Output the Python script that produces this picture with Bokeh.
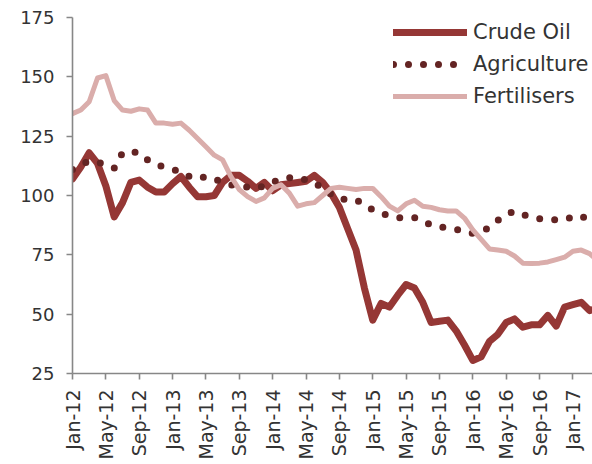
import math
import pandas as pd
from bokeh.plotting import figure
from bokeh.models import Range1d, FixedTicker, Legend, LegendItem, ColumnDataSource
from bokeh.embed import file_html
from bokeh.resources import INLINE

# ---- data (index values) ----
months = [d.strftime("%b-%y") for d in pd.date_range("2012-01-01", "2017-04-01", freq="MS")]

crude_oil = [107, 112, 118, 113.5, 104, 91, 97, 105.5, 106.5, 103.5, 101.5, 101.5,
             105, 108, 103.5, 99.5, 99.5, 100, 105.5, 108.5, 108.5, 106, 103, 105.5,
             102, 104.5, 105, 105.5, 106, 108.5, 105.5, 101, 95, 86, 77, 61,
             47.5, 54.5, 53, 58, 62.5, 61, 55, 46.5, 47, 47.5, 43, 37,
             30.5, 32, 38.5, 41.5, 46.5, 48, 44.5, 45.5, 45.5, 49.5, 45, 53,
             54, 55, 51.5, 52.5]

agriculture = [111, 113, 114.5, 114, 113, 111.5, 118, 118.5, 118, 115, 113, 112,
               111, 110, 108, 107, 108, 107, 105.5, 104.5, 104, 103.5, 103, 104,
               105.5, 107, 107.5, 107.5, 106.5, 105.5, 103, 100.5, 98.5, 98.3, 98.3, 96,
               94, 92.5, 91.5, 90.6, 90.6, 90.7, 89.5, 87.5, 86.8, 86.3, 85.7, 85,
               84, 85, 86.4, 89.5, 92, 93.4, 92, 91, 90.2, 89.8, 89.8, 89.8,
               91, 91.5, 89, 88.5]

fertilisers = [134.5, 136, 139.5, 149.5, 150.5, 140, 136, 135.5, 136.5, 136, 130.5, 130.5,
               130, 130.5, 127.5, 124, 120.5, 117, 115, 108, 102.5, 99.5, 97.5, 99,
               103, 104.5, 101, 95.5, 96.5, 97, 100, 103, 103.5, 103, 102.5, 103,
               103, 99.5, 95.5, 93.5, 96.5, 98, 95.5, 95, 94, 93.5, 93.5, 90.5,
               85.5, 81.5, 77.5, 77, 76.5, 74.5, 71.5, 71.3, 71.5, 72, 73, 74,
               76.5, 77, 75.5, 72.5]

tick_labels = ["Jan-12", "May-12", "Sep-12", "Jan-13", "May-13", "Sep-13", "Jan-14",
               "May-14", "Sep-14", "Jan-15", "May-15", "Sep-15", "Jan-16", "May-16",
               "Sep-16", "Jan-17"]
y_ticks = [25, 50, 75, 100, 125, 150, 175]

# ---- styling ----
C_CRUDE = "#953735"
C_AGRI = "#632423"
C_FERT = "#DAADAB"
AXIS_C = "#878787"
TEXT_C = "#333333"
FONT = "DejaVu Sans"

x = list(range(len(months)))
src = ColumnDataSource(dict(x=x, crude=crude_oil, agri=agriculture, fert=fertilisers))

p = figure(width=592, height=464, output_backend="svg", toolbar_location=None,
           x_range=Range1d(0, 62.35), y_range=Range1d(25, 175),
           min_border_left=72, min_border_right=0, min_border_top=17, min_border_bottom=91)
p.outline_line_color = None
p.xgrid.visible = False
p.ygrid.visible = False
p.background_fill_color = "white"

r_crude = p.line("x", "crude", source=src, line_color=C_CRUDE, line_width=7,
                 line_cap="round", line_join="round")
r_agri = p.line("x", "agri", source=src, line_color=C_AGRI, line_width=7,
                line_dash="0 15", line_cap="round", line_join="round")
r_fert = p.line("x", "fert", source=src, line_color=C_FERT, line_width=5,
                line_cap="round", line_join="round")

# axes
tick_pos = [months.index(t) for t in tick_labels]
p.xaxis.ticker = FixedTicker(ticks=tick_pos)
p.xaxis.major_label_overrides = {tp: lab for tp, lab in zip(tick_pos, tick_labels)}
p.xaxis.major_label_orientation = math.pi / 2
p.yaxis.ticker = FixedTicker(ticks=y_ticks)

for ax in (p.xaxis[0], p.yaxis[0]):
    ax.axis_line_color = AXIS_C
    ax.axis_line_width = 1.6
    ax.major_tick_line_color = AXIS_C
    ax.major_tick_line_width = 1.6
    ax.major_tick_out = 6
    ax.major_tick_in = 0
    ax.minor_tick_line_color = None
    ax.major_label_text_font = FONT
    ax.major_label_text_font_size = "18px"
    ax.major_label_text_color = TEXT_C
p.xaxis.major_label_text_font_size = "19px"
p.yaxis.major_label_standoff = 12
p.xaxis.major_label_standoff = 10

legend = Legend(items=[LegendItem(label="Crude Oil", renderers=[r_crude]),
                       LegendItem(label="Agriculture", renderers=[r_agri]),
                       LegendItem(label="Fertilisers", renderers=[r_fert])],
                location=(321, 265), orientation="vertical",
                glyph_width=74, glyph_height=22, label_height=22, spacing=8,
                label_standoff=6, padding=0, margin=0,
                border_line_color=None, background_fill_alpha=0,
                label_text_font=FONT, label_text_font_size="21px",
                label_text_color=TEXT_C)
p.add_layout(legend, "center")

open("out.html", "w").write(file_html(p, INLINE))
